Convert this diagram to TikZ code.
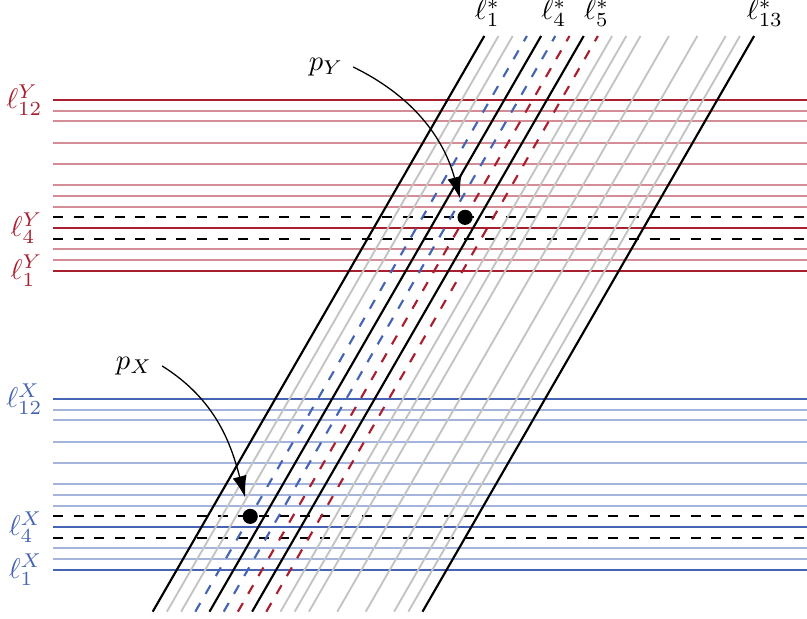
\documentclass[tikz,border=0pt]{standalone}
\usetikzlibrary{arrows.meta}
\definecolor{dred}{RGB}{168,32,48}
\definecolor{lred}{RGB}{212,140,150}
\definecolor{dblue}{RGB}{70,100,180}
\definecolor{lblue}{RGB}{165,180,220}
\definecolor{lgray}{RGB}{195,195,195}
\begin{document}
\begin{tikzpicture}[x=0.35pt,y=-0.35pt,
  hline/.style={line width=0.7pt},
  dsh/.style={dash pattern=on 3.5pt off 3.7pt},
  blackline/.style={line width=0.75pt,black},
  grayline/.style={line width=0.65pt,lgray},
  bluedash/.style={line width=0.75pt,dblue,dsh},
  reddash/.style={line width=0.75pt,dred,dsh},
  blackdash/.style={line width=0.75pt,black,dsh},
  dot/.style={circle,fill=black,inner sep=0pt,minimum size=5.3pt},
  ptr/.style={-{Latex[length=7.5pt,width=5pt]},line width=0.45pt,shorten >=4pt},
  leftlab/.style={anchor=east,inner sep=1pt,xshift=-2.5pt},
  toplab/.style={anchor=base,inner sep=1pt}
]
\useasboundingbox (0,0) rectangle (807,619);

% horizontal families
\foreach \g/\base/\dc/\lc in {Y/270.7/dred/lred, X/569.7/dblue/lblue}{
  \foreach \n/\i/\c in {1/0/\dc,2/1/\lc,3/2/\lc,4/4/\dc,5/6/\lc,6/7/\lc,7/8/\lc,8/10/\lc,9/12/\lc,10/14/\lc,11/15/\lc,12/16/\dc}{
    \coordinate (\g a\n) at (53,\base-10.67*\i);
    \coordinate (\g b\n) at (807,\base-10.67*\i);
    \draw[hline,\c] (\g a\n) -- (\g b\n);
  }
  \foreach \n/\i in {1/3,2/5}{
    \coordinate (\g da\n) at (53,\base-10.67*\i);
    \coordinate (\g db\n) at (807,\base-10.67*\i);
    \draw[blackdash] (\g da\n) -- (\g db\n);
  }
}

% slanted family
\foreach \k/\sty in {0/blackline,1/grayline,2/grayline,3/bluedash,4/blackline,5/bluedash,6/reddash,7/blackline,8/reddash,9/grayline,10/grayline,11/grayline,13/grayline,15/grayline,17/grayline,18/grayline,19/blackline}{
  \coordinate (d\k b) at (152.7+14.2*\k,611.7);
  \coordinate (d\k t) at (484.3+14.2*\k,36);
  \draw[\sty] (d\k b) -- (d\k t);
}

% left labels
\node[leftlab,text=dred] (lY12) at (Ya12) {$\ell^Y_{12}$};
\node[leftlab,text=dred] (lY4) at (Ya4) {$\ell^Y_{4}$};
\node[leftlab,text=dred] (lY1) at (Ya1) {$\ell^Y_{1}$};
\node[leftlab,text=dblue] (lX12) at (Xa12) {$\ell^X_{12}$};
\node[leftlab,text=dblue] (lX4) at (Xa4) {$\ell^X_{4}$};
\node[leftlab,text=dblue] (lX1) at (Xa1) {$\ell^X_{1}$};

% top labels
\node[toplab] (ls1) at (487.5,19.5) {$\ell^*_{1}$};
\node[toplab] (ls4) at (554,19.5) {$\ell^*_{4}$};
\node[toplab] (ls5) at (596.7,19.5) {$\ell^*_{5}$};
\node[toplab] (ls13) at (765,19.5) {$\ell^*_{13}$};

% points
\node[dot] (dotY) at (intersection of d6b--d6t and Yda2--Ydb2) {};
\node[dot] (dotX) at (intersection of d3b--d3t and Xda2--Xdb2) {};

\node (pY) at (326,67) {$p_Y$};
\node (pX) at (134,366) {$p_X$};

\draw[ptr] (pY.east) to[out=-26,in=105] (dotY);
\draw[ptr] (pX.east) to[out=-32,in=105] (dotX);
\end{tikzpicture}
\end{document}
